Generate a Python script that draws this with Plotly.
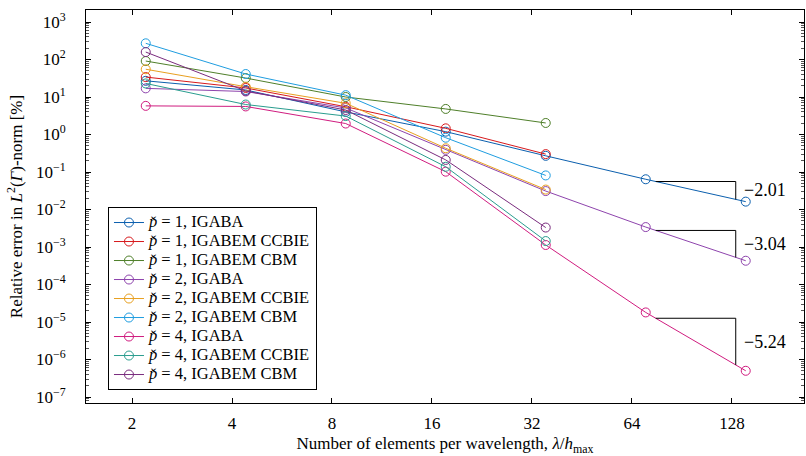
import numpy as np
import plotly.graph_objects as go

# ---- data ----
x_vals = [2.2, 4.4, 8.8, 17.6, 35.2, 70.4, 140.8]

p1_igaba = [27, 15.4, 4.0, 1.19, 0.27, 0.064, 0.0162]
p1_ccbie = [34, 17.4, 5.5, 1.46, 0.30]
p1_cbm = [91, 32, 10.0, 4.8, 2.03]
p2_igaba = [17, 14, 5.1, 0.39, 0.031, 0.0034, 0.00043]
p2_ccbie = [55, 18.8, 6.8, 0.43, 0.034]
p2_cbm = [270, 41, 11.2, 0.82, 0.081]
p4_igaba = [5.8, 5.6, 1.96, 0.102, 0.00113, 1.8e-5, 5.0e-7]
p4_ccbie = [23, 6.3, 3.1, 0.138, 0.00144]
p4_cbm = [158, 14.5, 4.5, 0.21, 0.0033]

series_names = [
    "<i>p̌</i> = 1, IGABA",
    "<i>p̌</i> = 1, IGABEM CCBIE",
    "<i>p̌</i> = 1, IGABEM CBM",
    "<i>p̌</i> = 2, IGABA",
    "<i>p̌</i> = 2, IGABEM CCBIE",
    "<i>p̌</i> = 2, IGABEM CBM",
    "<i>p̌</i> = 4, IGABA",
    "<i>p̌</i> = 4, IGABEM CCBIE",
    "<i>p̌</i> = 4, IGABEM CBM",
]
series_values = [p1_igaba, p1_ccbie, p1_cbm, p2_igaba, p2_ccbie, p2_cbm,
                 p4_igaba, p4_ccbie, p4_cbm]
series_colors = ["#0b5fae", "#d7191c", "#4f7f2a", "#8e44ad", "#e8a020",
                 "#1f9de0", "#d01c7f", "#2a9d8f", "#7a2c7e"]

slope_series = [p1_igaba, p2_igaba, p4_igaba]
slope_labels = ["−2.01", "−3.04", "−5.24"]

x_ticks = [2, 4, 8, 16, 32, 64, 128]
x_ticktext = ["2", "4", "8", "16", "32", "64", "128"]
y_exps = list(range(-7, 4))
y_ticks = [10.0 ** e for e in y_exps]
y_ticktext = ["10<sup>%s</sup>" % (str(e).replace("-", "−")) for e in y_exps]

FONT = "Liberation Serif"

fig = go.Figure()

for name, vals, col in zip(series_names, series_values, series_colors):
    fig.add_trace(go.Scatter(
        x=x_vals[:len(vals)], y=vals,
        name='<span style="font-size:16.5px">%s</span>' % name,
        mode="lines+markers",
        line=dict(color=col, width=1),
        marker=dict(symbol="circle-open", size=9, color=col, line=dict(width=1)),
    ))

# slope triangles
annotations = []
for vals, lab in zip(slope_series, slope_labels):
    lx6, lx7 = np.log10(x_vals[len(vals) - 2]), np.log10(x_vals[len(vals) - 1])
    ly6, ly7 = np.log10(vals[-2]), np.log10(vals[-1])
    t0, t1 = 0.1, 0.9
    xa = lx6 + t0 * (lx7 - lx6)
    ya = ly6 + t0 * (ly7 - ly6)
    xb = lx6 + t1 * (lx7 - lx6)
    yb = ly6 + t1 * (ly7 - ly6)
    fig.add_trace(go.Scatter(
        x=[10 ** xa, 10 ** xb, 10 ** xb], y=[10 ** ya, 10 ** ya, 10 ** yb],
        mode="lines", line=dict(color="black", width=1),
        showlegend=False, hoverinfo="skip",
    ))
    annotations.append(dict(
        x=xb, y=(ya + yb) / 2, xref="x", yref="y", text=lab,
        showarrow=False, xanchor="left", yanchor="middle", xshift=6,
        font=dict(family=FONT, size=18, color="black"),
    ))

fig.update_layout(
    width=806, height=456,
    margin=dict(l=86, r=2, t=10, b=53),
    paper_bgcolor="white", plot_bgcolor="white",
    font=dict(family=FONT, size=16, color="black"),
    annotations=annotations,
    legend=dict(
        x=0.0306, y=0.033, xanchor="left", yanchor="bottom",
        bgcolor="white", bordercolor="black", borderwidth=1,
        font=dict(family=FONT, size=12, color="black"),
        tracegroupgap=0, itemwidth=30,
    ),
)

fig.update_xaxes(
    type="log", range=[0.16256, 2.3240],
    tickvals=x_ticks, ticktext=x_ticktext,
    ticks="inside", ticklen=5, tickcolor="black", tickwidth=0.8,
    showline=True, linecolor="black", linewidth=1, mirror="allticks",
    showgrid=False, zeroline=False,
    tickfont=dict(family=FONT, size=17),
    ticklabelstandoff=5,
    title=dict(text="Number of elements per wavelength, <i>λ</i>/<i>h</i><sub>max</sub>",
               font=dict(family=FONT, size=17), standoff=8),
)

fig.update_yaxes(
    type="log", range=[-7.16, 3.32],
    tickvals=y_ticks, ticktext=y_ticktext,
    ticks="inside", ticklen=5, tickcolor="black", tickwidth=0.8,
    minor=dict(ticks="inside", ticklen=3, dtick="D1", tickcolor="#555", tickwidth=0.6, showgrid=False),
    showline=True, linecolor="black", linewidth=1, mirror="allticks",
    showgrid=False, zeroline=False,
    tickfont=dict(family=FONT, size=17),
    ticklabelstandoff=16,
    title=dict(text="Relative error in <i>L</i><sup>2</sup>(<i>Γ</i>)-norm [%]",
               font=dict(family=FONT, size=17), standoff=8),
)

fig.write_html("out.html")
